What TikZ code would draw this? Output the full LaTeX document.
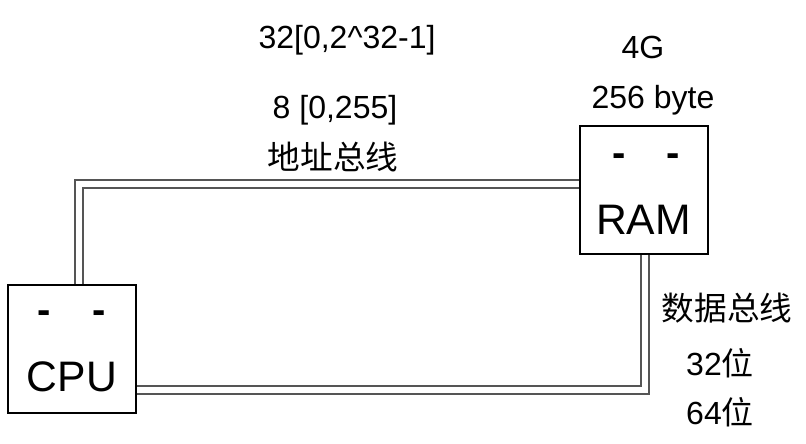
\documentclass[tikz,border=0pt]{standalone}
\usepackage{fontspec}
\setmainfont{Liberation Sans}
\newfontfamily\cjk{Noto Sans CJK SC}
\usetikzlibrary{positioning}
\definecolor{busgray}{HTML}{555555}

\begin{document}
\begin{tikzpicture}[
  x=0.75pt, y=-0.75pt,
  unit/.style={draw=black,line width=1.5pt,minimum width=96pt,minimum height=96pt,inner sep=0pt},
  boxname/.style={font=\fontsize{32}{38}\selectfont,inner sep=0pt},
  boxdash/.style={font=\bfseries\fontsize{30}{36}\selectfont,inner sep=0pt},
  note/.style={font=\fontsize{24}{28}\selectfont,inner sep=0pt},
  cnote/.style={font=\cjk\fontsize{24.5}{28}\selectfont,inner sep=0pt},
  bus/.style={draw=busgray,line width=1.1pt,double=white,double distance=4.8pt}
]
\useasboundingbox (0,0) rectangle (806,443);

% the two units
\node[unit] (cpu) at (72,348.5) {};
\node[unit] (ram) at (643.5,189.5) {};
\node[boxname] (cputext) at (72,377) {CPU};
\node[boxname] (ramtext) at (643.5,220) {RAM};
\node[boxdash] (cpul) at (44,317) {-};
\node[boxdash] (cpur) at (99,317) {-};
\node[boxdash] (raml) at (619,160) {-};
\node[boxdash] (ramr) at (673,160) {-};

% labels
\node[note] (addrw) at (347,40) {32[0,2\^{}32-1]};
\node[note] (addrb) at (335,110) {8 [0,255]};
\node[cnote] (addrbus) at (333,157) {地址总线};
\node[note] (size4g) at (643,47) {4G};
\node[note] (size256) at (653,100) {256 byte};
\node[cnote] (databus) at (727,308) {数据总线};
\node[note] (d32) at (720,363) {32{\cjk 位}};
\node[note] (d64) at (720,412) {64{\cjk 位}};

% buses
\coordinate (abus) at (79,184);
\coordinate (dbus) at (645,390);
\draw[bus] (cpu.north -| abus) |- (ram.west |- abus);
\draw[bus] (ram.south -| dbus) |- (cpu.east |- dbus);
\end{tikzpicture}
\end{document}
